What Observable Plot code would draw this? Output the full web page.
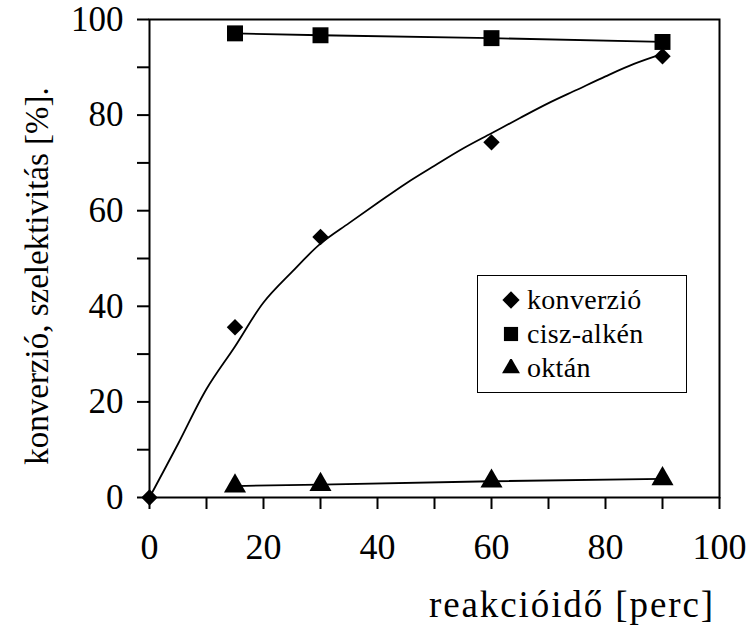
<!DOCTYPE html>
<html>
<head>
<meta charset="utf-8">
<script src="https://cdn.jsdelivr.net/npm/d3@7"></script>
<script src="https://cdn.jsdelivr.net/npm/@observablehq/plot@0.6"></script>
<style>
  body { margin: 0; background: #fff; }
  #chart { position: relative; width: 752px; height: 630px; font-family: "Liberation Serif", serif; }
  #chart svg text { font-family: "Liberation Serif", serif; }
  #legend { position: absolute; left: 477px; top: 275px; width: 210px; height: 118px; border: 1.5px solid #000; box-sizing: border-box; background: #fff; }
  #legend .row { position: absolute; left: 0; height: 30px; display: flex; align-items: center; font-size: 28px; letter-spacing: 0.3px; color: #000; font-family: "Liberation Serif", serif; }
  #legend svg { margin-left: 24px; margin-right: 7px; }
</style>
</head>
<body>
<div id="chart"></div>
<script>
// Reaction time [min] of the sampled points
const time = [15, 30, 60, 90];

// Conversion, measured (includes the origin)
const conversionTime = [0, 15, 30, 60, 90];
const conversion = [0, 35.6, 54.5, 74.3, 92.3];

// Fitted conversion curve
const conversionFitTime = [0, 5, 10, 15, 20, 25, 30, 35, 40, 45, 50, 55, 60, 65, 70, 75, 80, 85, 90];
const conversionFit = [0, 11.2, 22.7, 31.6, 40.8, 47.2, 53.1, 57.4, 61.6, 65.7, 69.4, 73.0, 76.2, 79.4, 82.5, 85.3, 88.1, 90.7, 92.8];

// Selectivities
const ciszAlken = [97.1, 96.7, 96.1, 95.3];
const oktan = [2.4, 2.7, 3.4, 3.9];

// Axis ticks
const xTicks = d3.range(0, 101, 10);
const yTicks = d3.range(0, 101, 10);
const labelStep = 20;

const legendItems = ["konverzió", "cisz-alkén", "oktán"];
const legendSymbols = ["diamond", "square", "triangle"];

const convPts = conversionTime.map((t, i) => ({t, v: conversion[i]}));
const fitPts = conversionFitTime.map((t, i) => ({t, v: conversionFit[i]}));
const alkenPts = time.map((t, i) => ({t, v: ciszAlken[i]}));
const oktanPts = time.map((t, i) => ({t, v: oktan[i]}));

const font = '"Liberation Serif", serif';
const fmt = d => d % labelStep === 0 ? String(d) : "";

const chart = Plot.plot({
  width: 752,
  height: 630,
  marginLeft: 149,
  marginRight: 33,
  marginTop: 19,
  marginBottom: 133,
  style: { fontFamily: font, fontSize: "35px", color: "#000", background: "#fff", overflow: "visible" },
  x: { domain: [0, 100] },
  y: { domain: [0, 100] },
  marks: [
    Plot.axisX({ ticks: xTicks, tickSize: 12, tickPadding: 24, tickFormat: fmt, label: null, strokeWidth: 2, fontSize: 36 }),
    Plot.axisY({ ticks: yTicks, tickSize: 12, tickPadding: 14, tickFormat: fmt, label: null, strokeWidth: 2, fontSize: 35 }),
    Plot.frame({ stroke: "#000", strokeWidth: 2 }),
    Plot.line(fitPts, { x: "t", y: "v", stroke: "#000", strokeWidth: 1.8, curve: "catmull-rom" }),
    Plot.line(alkenPts, { x: "t", y: "v", stroke: "#000", strokeWidth: 1.8 }),
    Plot.line(oktanPts, { x: "t", y: "v", stroke: "#000", strokeWidth: 1.8 }),
    Plot.dot(alkenPts, { x: "t", y: "v", symbol: "square", r: 9, fill: "#000", stroke: "none" }),
    Plot.dot(oktanPts, { x: "t", y: "v", symbol: "triangle", r: 8.2, fill: "#000", stroke: "none" }),
    Plot.dot(convPts, { x: "t", y: "v", symbol: "diamond2", r: 7.4, fill: "#000", stroke: "none" })
  ]
});

// Axis titles
const svg = d3.select(chart);
svg.append("text")
  .attr("transform", "translate(37,276) rotate(-90)")
  .attr("text-anchor", "middle")
  .attr("dominant-baseline", "central")
  .style("font-family", font)
  .attr("font-size", 33)
  .attr("fill", "#000")
  .text("konverzió, szelektivitás [%].");
svg.append("text")
  .attr("x", 715)
  .attr("y", 617)
  .attr("text-anchor", "end")
  .style("font-family", font)
  .style("letter-spacing", "1.9px")
  .attr("font-size", 37)
  .attr("fill", "#000")
  .text("reakcióidő [perc]");

const host = document.getElementById("chart");
host.appendChild(chart);

// Legend box
const legend = document.createElement("div");
legend.id = "legend";
const symbolPath = {
  diamond: d3.symbol(d3.symbolDiamond2, 190)(),
  square: d3.symbol(d3.symbolSquare, 200)(),
  triangle: d3.symbol(d3.symbolTriangle2, 230)()
};
legendItems.forEach((name, i) => {
  const row = document.createElement("div");
  row.className = "row";
  row.style.top = (9 + i * 34) + "px";
  row.innerHTML = `<svg width="18" height="18" viewBox="-9 -9 18 18"><path d="${symbolPath[legendSymbols[i]]}" fill="#000"/></svg><span>${name}</span>`;
  legend.appendChild(row);
});
host.appendChild(legend);
</script>
</body>
</html>
